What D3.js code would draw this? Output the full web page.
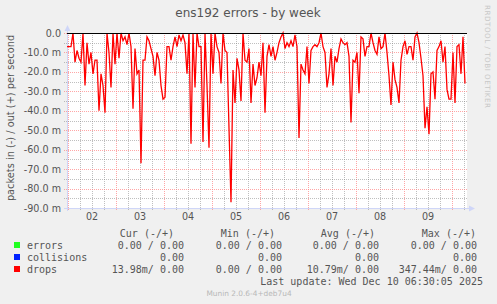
<!DOCTYPE html>
<html>
<head>
<meta charset="utf-8">
<script src="https://cdn.jsdelivr.net/npm/d3@7"></script>
<style>
body { margin: 0; background: #f0f0f0; }
svg { display: block; }
</style>
</head>
<body>
<div id="vis"></div>
<script>
const width = 497;
const height = 304;

// drops in (-), milli-packets per second, one value per hour from Dec 1 23:30
const drops = [
	-7, -7, -7, 0, -15, -9, -13, -15, 0, -27,
	-5, -16, -10, -21, -14, -14, -40, -21, -27, -41,
	0, -10, -28, 0, -16, 0, -13, 0, -4, -2,
	-6, 0, -7, -39, -8, -21, -19, -67, -14, -14,
	-2, -4, -8, -12, -22, -10, -14, -27, -34, -33,
	-7, -7, -14, -7, -2, -7, -1, -4, -1, -5,
	-21, 0, -57, 0, -28, 0, -7, -7, -56, 0,
	-27, -59, 0, -21, 0, -7, -10, -26, 0, -9,
	-10, -49, -87, -19, -36, -13, -19, -35, 0, -14,
	-15, -8, -36, -16, -27, -23, -15, -22, -5, -41,
	-12, -6, -12, -7, -14, -10, -5, -2, 0, -8,
	-5, -7, -4, -7, -1, -7, -54, -16, -19, -21,
	-7, -26, -9, -7, -6, -7, -5, 0, -7, -10,
	-28, -21, -8, -27, -12, -15, -8, -3, -5, -6,
	-5, -12, -46, -14, -15, -10, -31, -2, -3, -12,
	-7, -7, 0, -5, -9, -11, -2, -8, -7, 0,
	-10, -22, -37, -15, -24, -28, -36, -14, -7, -4,
	-11, -7, -7, -14, -2, 0, -5, -13, -22, -49,
	-38, -52, -21, -20, -34, -9, -7, -4, -15, -7,
	-29, -34, -34, -10, -36, -7, -6, -21, -2, -26
];
const startTime = new Date(2025, 11, 1, 23, 30);
const endTime = new Date(2025, 11, 10, 7, 30);

const yTicks = [0, -10, -20, -30, -40, -50, -60, -70, -80, -90];
const days = [2, 3, 4, 5, 6, 7, 8, 9];

const legendNames = ["errors", "collisions", "drops"];
const legendColors = ["#22ff22", "#0022ff", "#ff0000"];
const legendHeads = ["Cur (-/+)", "Min (-/+)", "Avg (-/+)", "Max (-/+)"];
const legendValues = [
	["0.00 / 0.00", "0.00 / 0.00", "0.00 / 0.00", "0.00 / 0.00"],
	["0.00", "0.00", "0.00", "0.00"],
	["13.98m/ 0.00", "0.00 / 0.00", "10.79m/ 0.00", "347.44m/ 0.00"]
];
const lastUpdate = "Last update: Wed Dec 10 06:30:05 2025";

const x = d3.scaleTime().domain([startTime, endTime]).range([67, 467]);
const y = d3.scaleLinear().domain([-90, 0]).range([208, 33]);

const svg = d3.select("div#vis")
	.append("svg")
		.attr("width", width)
		.attr("height", height)
		.style("font-family", "'DejaVu Sans', sans-serif");

svg.append("rect").attr("width", width).attr("height", height).attr("fill", "#f0f0f0");
svg.append("rect")
	.attr("x", x.range()[0]).attr("y", y(0))
	.attr("width", x.range()[1] - x.range()[0]).attr("height", y(-90) - y(0))
	.attr("fill", "#ffffff");

// grid
const grid = svg.append("g").attr("shape-rendering", "crispEdges");
const minorX = d3.timeHour.every(6).range(startTime, endTime);
grid.selectAll("line.vx")
	.data(minorX)
	.enter().append("line")
		.attr("x1", d => Math.round(x(d)) + 0.5).attr("x2", d => Math.round(x(d)) + 0.5)
		.attr("y1", y(0)).attr("y2", y(-90) + 3)
		.attr("stroke", d => d.getHours() === 0 ? "rgba(255,128,128,0.7)" : "rgba(128,128,128,0.5)")
		.attr("stroke-dasharray", "1,1");

const minorY = d3.range(0, -91, -5);
grid.selectAll("line.hy")
	.data(minorY)
	.enter().append("line")
		.attr("x1", x.range()[0] - 3).attr("x2", x.range()[1] + 1)
		.attr("y1", d => Math.round(y(d)) + 0.5).attr("y2", d => Math.round(y(d)) + 0.5)
		.attr("stroke", d => d % 10 === 0 ? "rgba(255,128,128,0.7)" : "rgba(128,128,128,0.5)")
		.attr("stroke-dasharray", "1,1");

// axes
const axisColor = "#cfd6f8";
svg.append("line")
	.attr("x1", x.range()[0] - 3).attr("x2", x.range()[1] + 3)
	.attr("y1", 208.5).attr("y2", 208.5)
	.attr("stroke", axisColor);
svg.append("line")
	.attr("x1", 67.5).attr("x2", 67.5)
	.attr("y1", y(0) - 2).attr("y2", 211)
	.attr("stroke", axisColor);
svg.append("path").attr("d", "M64.5,31 L67.5,25 L70.5,31 Z").attr("fill", axisColor);
svg.append("path").attr("d", "M469,205.5 L475,208.5 L469,211.5 Z").attr("fill", axisColor);

// data
const line = d3.line()
	.x((d, i) => x(d3.timeHour.offset(startTime, i)))
	.y(d => y(d));

svg.append("path")
	.datum(drops)
	.attr("d", line)
	.attr("fill", "none")
	.attr("stroke", "#ff0000")
	.attr("stroke-width", 1.3);

svg.append("line")
	.attr("x1", x.range()[0]).attr("x2", x.range()[1])
	.attr("y1", y(0) + 0.5).attr("y2", y(0) + 0.5)
	.attr("stroke", "#000000");

// labels
const labelColor = "#555555";
svg.selectAll("text.ytick")
	.data(yTicks)
	.enter().append("text")
		.attr("x", 61).attr("y", d => y(d) + 3.5)
		.attr("text-anchor", "end")
		.attr("font-size", 9.6)
		.attr("fill", labelColor)
		.text(d => d === 0 ? "0.0" : d3.format(".1f")(d).replace("−", "-") + " m");

svg.selectAll("text.xtick")
	.data(days)
	.enter().append("text")
		.attr("x", d => x(new Date(2025, 11, d, 12)))
		.attr("y", 220)
		.attr("text-anchor", "middle")
		.attr("font-size", 9.6)
		.attr("fill", labelColor)
		.text(d => d3.format("02d")(d));

svg.append("text")
	.attr("transform", "translate(14,118) rotate(-90)")
	.attr("text-anchor", "middle")
	.attr("font-size", 9.8)
	.attr("fill", labelColor)
	.text("packets in (-) / out (+) per second");

svg.append("text")
	.attr("x", 248).attr("y", 17)
	.attr("text-anchor", "middle")
	.attr("font-size", 12)
	.attr("fill", labelColor)
	.text("ens192 errors - by week");

svg.append("text")
	.attr("transform", "translate(485,5) rotate(90)")
	.attr("font-size", 7.2)
	.attr("fill", "#c8c8c8")
	.attr("textLength", 103)
	.text("RRDTOOL / TOBI OETIKER");

// legend
const mono = "'DejaVu Sans Mono', monospace";
const headRight = [174, 275, 375, 476];
const valRight = [184, 282, 379, 477];
const rowY = [249, 261, 273];

svg.selectAll("text.head")
	.data(legendHeads)
	.enter().append("text")
		.attr("x", (d, i) => headRight[i]).attr("y", 237)
		.attr("text-anchor", "end")
		.attr("font-family", mono).attr("font-size", 10)
		.attr("fill", labelColor)
		.attr("xml:space", "preserve")
		.text(d => d);

legendNames.forEach((name, r) => {
	svg.append("rect")
		.attr("x", 14).attr("y", rowY[r] - 7)
		.attr("width", 6).attr("height", 6)
		.attr("fill", legendColors[r]);
	svg.append("text")
		.attr("x", 27).attr("y", rowY[r])
		.attr("font-family", mono).attr("font-size", 10)
		.attr("fill", labelColor)
		.text(name);
	legendValues[r].forEach((v, c) => {
		svg.append("text")
			.attr("x", valRight[c]).attr("y", rowY[r])
			.attr("text-anchor", "end")
			.attr("font-family", mono).attr("font-size", 10)
			.attr("fill", labelColor)
			.attr("xml:space", "preserve")
			.text(v);
	});
});

svg.append("text")
	.attr("x", 483).attr("y", 285)
	.attr("text-anchor", "end")
	.attr("font-family", mono).attr("font-size", 10)
	.attr("fill", labelColor)
	.text(lastUpdate);

svg.append("text")
	.attr("x", 249).attr("y", 296)
	.attr("text-anchor", "middle")
	.attr("font-size", 7.4)
	.attr("fill", "#b8b8b8")
	.text("Munin 2.0.6-4+deb7u4");
</script>
</body>
</html>
